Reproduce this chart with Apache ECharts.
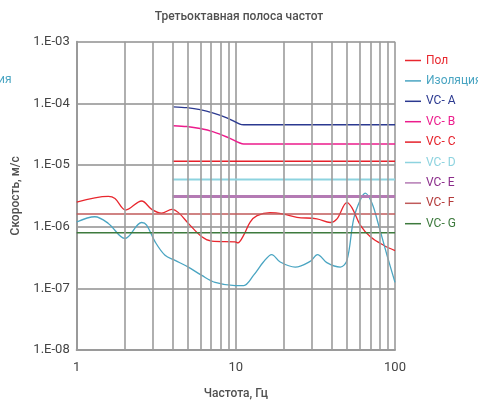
<!DOCTYPE html>
<html>
<head>
<meta charset="utf-8">
<script src="https://cdn.jsdelivr.net/npm/echarts@6/dist/echarts.min.js"></script>
<style>
  html, body { margin: 0; padding: 0; background: #fff; }
  #chart { width: 478px; height: 405px; }
</style>
</head>
<body>
<div id="chart"></div>
<script>
// Third-octave vibration velocity spectra vs. VC criterion curves
const seriesNames = ['Пол', 'Изоляция', 'VC- A', 'VC- B', 'VC- C', 'VC- D', 'VC- E', 'VC- F', 'VC- G'];
const seriesColors = ['#e8272e', '#4aa5c2', '#2b3990', '#ec1c8c', '#e5202a', '#8dd3df', '#b47ab4', '#c05a5a', '#3d7a3d'];
const legendTextColors = ['#e8272e', '#4aa5c2', '#2b3990', '#ec1c8c', '#e5202a', '#8dd3df', '#8b2d8b', '#b33a3a', '#3d7a3d'];

// Floor measurement (Пол), m/s
const floorFreq = [1, 1.58, 1.74, 2.03, 2.56, 2.96, 3.42, 3.96, 4.36, 5.03, 6.11, 7.06, 9.9, 10.3, 11.2, 12.3, 13.6, 16.4, 19.9, 24.2, 32.3, 39.2, 43.2, 49.9, 53.7, 60.5, 70, 84.8, 100];
const floorVel  = [2.5e-6, 3.1e-6, 2.86e-6, 1.86e-6, 2.61e-6, 1.91e-6, 1.66e-6, 1.91e-6, 1.69e-6, 1.13e-6, 6.86e-7, 5.83e-7, 5.68e-7, 5.47e-7, 7.3e-7, 1.19e-6, 1.51e-6, 1.69e-6, 1.6e-6, 1.42e-6, 1.34e-6, 1.17e-6, 1.34e-6, 2.46e-6, 2.02e-6, 1.06e-6, 6.86e-7, 5.0e-7, 4.1e-7];

// Isolated platform (Изоляция), m/s
const isoFreq = [1, 1.3, 1.58, 2.01, 2.56, 2.75, 3.11, 3.59, 4.15, 5.03, 6.11, 7.41, 9.9, 11.2, 12.9, 14.9, 16.8, 19, 23.6, 29.3, 32.6, 37.3, 45.3, 49.9, 55, 60.5, 65, 71.7, 78.9, 89.1, 100];
const isoVel  = [1.19e-6, 1.45e-6, 1.13e-6, 6.45e-7, 1.17e-6, 1.06e-6, 5.68e-7, 3.44e-7, 2.84e-7, 2.21e-7, 1.62e-7, 1.25e-7, 1.11e-7, 1.11e-7, 1.62e-7, 2.67e-7, 3.53e-7, 2.67e-7, 2.21e-7, 2.74e-7, 3.53e-7, 2.61e-7, 2.21e-7, 2.84e-7, 1.34e-6, 2.7e-6, 3.5e-6, 2.4e-6, 1.06e-6, 3.44e-7, 1.25e-7];

// VC criteria curves
const vcAFreq = [4.05, 4.92, 5.96, 7.23, 8.78, 10.6, 11.2, 100];
const vcAVel  = [8.8e-5, 8.5e-5, 7.9e-5, 6.95e-5, 5.83e-5, 4.6e-5, 4.5e-5, 4.5e-5];
const vcBFreq = [4.05, 4.92, 5.96, 7.23, 8.78, 10.6, 11.2, 100];
const vcBVel  = [4.35e-5, 4.2e-5, 3.9e-5, 3.45e-5, 2.85e-5, 2.28e-5, 2.2e-5, 2.2e-5];
const vcCFreq = [4, 100];
const vcCVel  = [1.15e-5, 1.15e-5];
const vcDFreq = [4, 100];
const vcDVel  = [5.8e-6, 5.8e-6];
const vcEFreq = [4, 100];
const vcEVel  = [3.1e-6, 3.1e-6];
const vcFFreq = [1, 100];
const vcFVel  = [1.6e-6, 1.6e-6];
const vcGFreq = [1, 100];
const vcGVel  = [8.0e-7, 8.0e-7];

// Intermediate frequency grid lines
const minorFreqs = [2, 3, 4, 5, 6, 7, 8, 9, 20, 30, 40, 50, 60, 70, 80, 90];
const xTickLabels = { 1: '1', 10: '10', 100: '100' };
const yTickLabels = ['1.E-08', '1.E-07', '1.E-06', '1.E-05', '1.E-04', '1.E-03'];

const pairs = (xs, ys) => xs.map((x, i) => [x, ys[i]]);
const curveData = [
  pairs(floorFreq, floorVel), pairs(isoFreq, isoVel),
  pairs(vcAFreq, vcAVel), pairs(vcBFreq, vcBVel), pairs(vcCFreq, vcCVel),
  pairs(vcDFreq, vcDVel), pairs(vcEFreq, vcEVel), pairs(vcFFreq, vcFVel), pairs(vcGFreq, vcGVel)
];
const lineWidths = [1.3, 1.3, 1.3, 1.5, 1.5, 2, 3, 1.5, 1.5];
const smoothness = [0.35, 0.35, 0.3, 0.3, 0, 0, 0, 0, 0];

const FONT = 'Roboto';
const chart = echarts.init(document.getElementById('chart'), null, { renderer: 'canvas' });

const series = seriesNames.map((name, i) => ({
  name,
  type: 'line',
  data: curveData[i],
  symbol: 'none',
  smooth: smoothness[i],
  color: seriesColors[i],
  lineStyle: { color: seriesColors[i], width: lineWidths[i] },
  z: 3,
  silent: true
}));

series.push({
  name: 'minor-grid',
  type: 'line',
  data: [[1, 1e-8]],
  symbol: 'none',
  lineStyle: { width: 0 },
  z: 1,
  markLine: {
    silent: true,
    symbol: 'none',
    label: { show: false },
    lineStyle: { type: 'solid', color: '#9c9c9c', width: 1.6 },
    data: minorFreqs.map(f => ({ xAxis: f })),
    animation: false
  }
});

chart.setOption({
  animation: false,
  backgroundColor: '#ffffff',
  title: {
    text: 'Третьоктавная полоса частот',
    left: 'center',
    top: 6,
    textStyle: { fontFamily: FONT, fontSize: 12, fontWeight: 500, color: '#505050' }
  },
  legend: {
    orient: 'vertical',
    left: 400,
    top: 47.5,
    icon: 'rect',
    itemWidth: 16,
    itemHeight: 1.5,
    itemGap: 4.4,
    selectedMode: false,
    textStyle: { fontFamily: FONT, fontSize: 12, lineHeight: 16 },
    data: seriesNames.map((name, i) => ({ name, textStyle: { color: legendTextColors[i] } }))
  },
  grid: { left: 76.7, right: 83, top: 41.7, bottom: 52.3, containLabel: false },
  xAxis: {
    type: 'log',
    logBase: 10,
    min: 1,
    max: 100,
    interval: 1,
    name: 'Частота, Гц',
    nameLocation: 'middle',
    nameGap: 38,
    nameTextStyle: { fontFamily: FONT, fontSize: 12, fontWeight: 500, color: '#505050' },
    axisLine: { show: true, lineStyle: { color: '#9a9a9a', width: 2 } },
    axisTick: { show: false },
    axisLabel: {
      fontFamily: FONT, fontSize: 13, color: '#444444', margin: 11,
      formatter: v => xTickLabels[Math.round(v)] || ''
    },
    splitLine: { show: true, lineStyle: { color: '#9a9a9a', width: 1.6 } }
  },
  yAxis: {
    type: 'log',
    logBase: 10,
    min: 1e-8,
    max: 1e-3,
    interval: 1,
    name: 'Скорость, м/с',
    nameLocation: 'middle',
    nameRotate: 90,
    nameGap: 48,
    nameTextStyle: { fontFamily: FONT, fontSize: 12, fontWeight: 500, color: '#505050' },
    axisLine: { show: true, lineStyle: { color: '#9a9a9a', width: 2 } },
    axisTick: { show: false },
    axisLabel: {
      fontFamily: FONT, fontSize: 13, color: '#444444', margin: 7,
      formatter: v => yTickLabels[Math.round(Math.log10(v)) + 8] || ''
    },
    splitLine: { show: true, lineStyle: { color: '#ababab', width: 2 } }
  },
  graphic: [{
    type: 'text',
    left: -44,
    top: 74,
    style: { text: 'Изоляция', fontFamily: FONT, fontSize: 12, fill: '#4aa5c2' }
  }],
  series
});
</script>
</body>
</html>
